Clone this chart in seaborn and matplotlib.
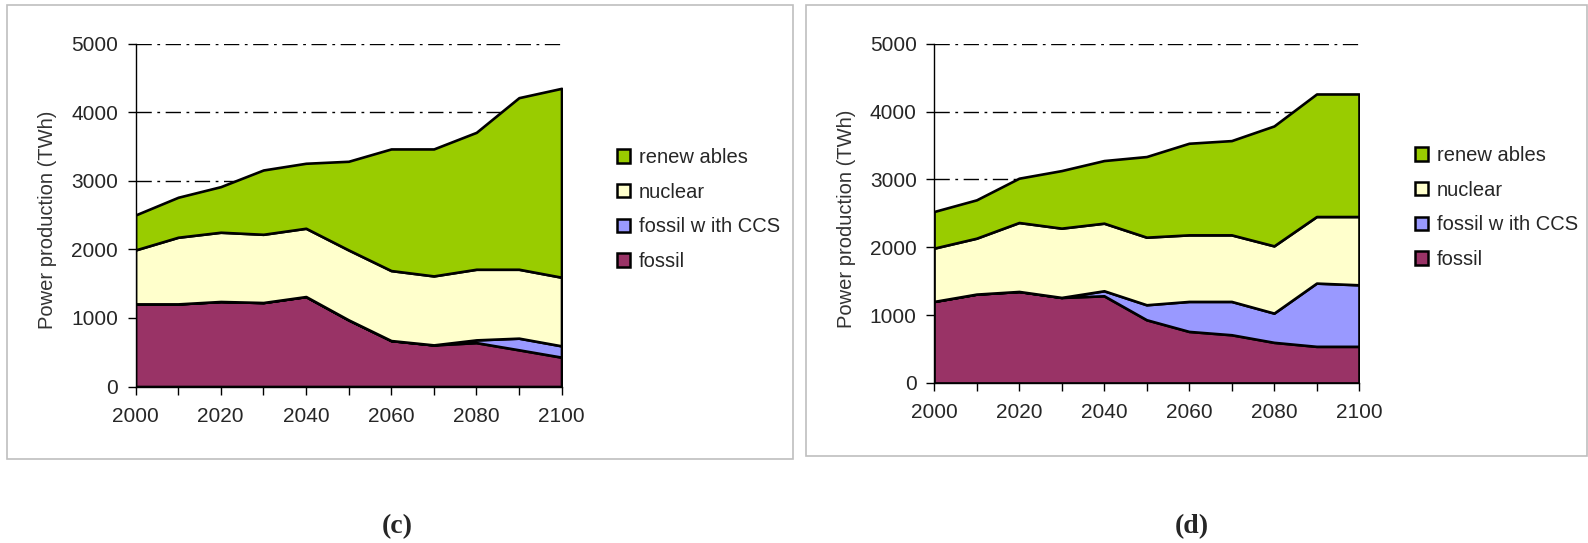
import numpy as np
import pandas as pd
import seaborn as sns
import matplotlib.pyplot as plt
from matplotlib.patches import Patch, Rectangle

## data (TWh per decade)
years = [2000, 2010, 2020, 2030, 2040, 2050, 2060, 2070, 2080, 2090, 2100]
layers = ["fossil", "fossil w ith CCS", "nuclear", "renew ables"]

fossil_c = [1205, 1205, 1240, 1225, 1312, 972, 670, 607, 640, 535, 428]
ccs_c = [0, 0, 0, 0, 0, 0, 0, 0, 40, 170, 165]
nuclear_c = [787, 972, 1010, 995, 996, 1020, 1021, 1006, 1030, 1005, 1001]
renew_c = [510, 583, 665, 938, 948, 1293, 1774, 1852, 1997, 2503, 2755]

fossil_d = [1202, 1310, 1349, 1261, 1285, 932, 760, 711, 599, 540, 540]
ccs_d = [0, 0, 0, 0, 74, 221, 442, 491, 431, 932, 907]
nuclear_d = [785, 824, 1016, 1021, 996, 996, 981, 981, 991, 981, 1006]
renew_d = [540, 565, 653, 848, 923, 1188, 1350, 1389, 1767, 1806, 1806]

colors = ["#993366", "#9999FF", "#FFFFCC", "#99CC00"]

sns.set_style("white")
plt.rcParams["font.family"] = ["Liberation Sans", "DejaVu Sans"]

W, H = 1588, 543
fig = plt.figure(figsize=(W / 100, H / 100), dpi=100)


def px(x0, y0, x1, y1):
    ## pixel box -> figure fractions
    return [x0 / W, 1 - y1 / H, (x1 - x0) / W, (y1 - y0) / H]


## light grey frames round each panel
for (x0, y0, x1, y1) in [(7, 5, 793, 459), (806, 5, 1587, 456)]:
    fig.patches.append(Rectangle((x0 / W, 1 - y1 / H), (x1 - x0) / W, (y1 - y0) / H,
                                 transform=fig.transFigure, fill=False,
                                 edgecolor="#BFBFBF", linewidth=1.2))

panels = [
    (px(135.5, 43.7, 561.5, 386.5), [fossil_c, ccs_c, nuclear_c, renew_c], (617, 148), (397, 527), "(c)"),
    (px(934, 43.7, 1359, 383), [fossil_d, ccs_d, nuclear_d, renew_d], (1415, 146), (1192, 527), "(d)"),
]

for rect, series, leg_xy, lab_xy, lab in panels:
    ax = fig.add_axes(rect)
    df = pd.DataFrame(dict(zip(layers, series)), index=years)
    ax.stackplot(df.index, [df[c] for c in layers], colors=colors,
                 edgecolor="black", linewidth=1.9, zorder=3)

    ax.set_xlim(2000, 2100)
    ax.set_ylim(0, 5000)
    ax.set_xticks(range(2000, 2101, 20))
    ax.set_xticks(range(2010, 2100, 20), minor=True)
    ax.set_yticks(range(0, 5001, 1000))
    ax.tick_params(axis="both", which="both", direction="out", length=5.5, width=1,
                   color="black", labelsize=15, bottom=True, left=True)
    ax.tick_params(axis="x", pad=9)
    ax.tick_params(axis="y", pad=7)

    ax.yaxis.grid(True, linestyle=(0, (11, 4, 2, 4)), color="black", linewidth=1)
    ax.xaxis.grid(False)
    ax.set_axisbelow(True)

    sns.despine(ax=ax)
    for s in ["left", "bottom"]:
        ax.spines[s].set_color("black")
        ax.spines[s].set_linewidth(1)
        ax.spines[s].set_zorder(4)

    ax.set_ylabel("Power production (TWh)", fontsize=14.5, color="#333333")
    ax.yaxis.set_label_coords(-0.184, 0.485)

    handles = [Patch(facecolor=colors[i], edgecolor="black", linewidth=1.8, label=layers[i])
               for i in [3, 2, 1, 0]]
    fig.legend(handles=handles, loc="upper left",
               bbox_to_anchor=(leg_xy[0] / W, 1 - leg_xy[1] / H),
               frameon=False, fontsize=14.5, handlelength=0.65, handleheight=0.65,
               handletextpad=0.45, labelspacing=0.78, borderpad=0, borderaxespad=0)

    fig.text(lab_xy[0] / W, 1 - lab_xy[1] / H, lab, ha="center", va="center",
             fontsize=20, fontweight="bold", family=["Liberation Serif", "DejaVu Serif"])

plt.savefig("out.png", dpi=100)
plt.close()
